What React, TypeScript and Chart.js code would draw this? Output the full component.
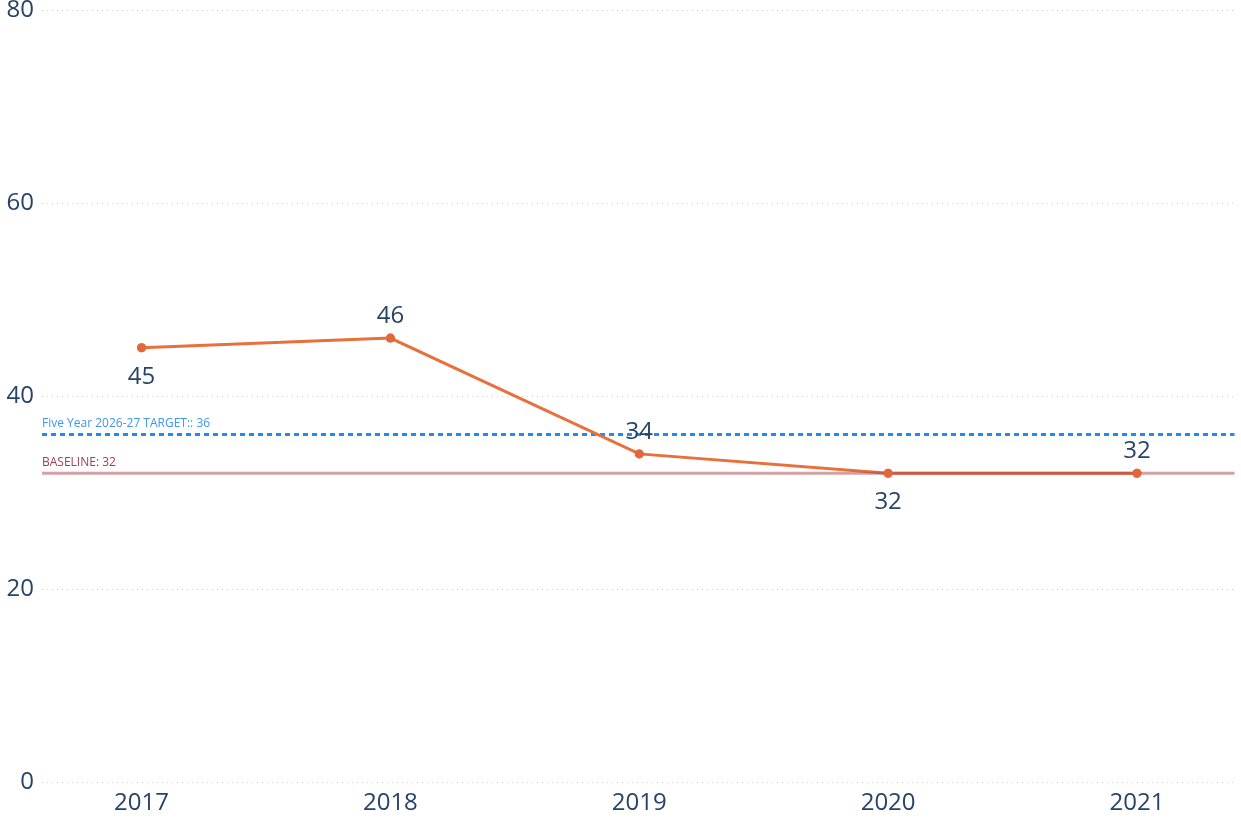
import React, { useEffect, useRef } from "react";
import { Chart, registerables } from "chart.js";

Chart.register(...registerables);

const years = [2017, 2018, 2019, 2020, 2021];
const values = [45, 46, 34, 32, 32];
const yTicks = [0, 20, 40, 60, 80];
const targetValue = 36;
const targetLabel = "Five Year 2026-27 TARGET:: 36";
const baselineValue = 32;
const baselineLabel = "BASELINE: 32";

const FONT = "'Open Sans', 'Noto Sans', sans-serif";
const TEXT_COLOR = "#274468";
const labelSide = ["below", "above", "above", "below", "above"];

const refLinesPlugin = {
  id: "refLines",
  beforeDatasetsDraw(chart: any) {
    const { ctx, chartArea, scales } = chart;
    const y = scales.y;
    const left = chartArea.left;
    const right = chartArea.right - 2;
    ctx.save();
    const yb = y.getPixelForValue(baselineValue);
    ctx.font = `12px ${FONT}`;
    ctx.fillStyle = "#9c3f4e";
    ctx.textAlign = "left";
    ctx.textBaseline = "bottom";
    ctx.fillText(baselineLabel, left, yb - 5);
    const yt = y.getPixelForValue(targetValue);
    ctx.strokeStyle = "#1e8cf5";
    ctx.lineWidth = 3;
    ctx.setLineDash([5, 4]);
    ctx.beginPath();
    ctx.moveTo(left, yt);
    ctx.lineTo(right, yt);
    ctx.stroke();
    ctx.setLineDash([]);
    ctx.fillStyle = "#3f95f0";
    ctx.fillText(targetLabel, left, yt - 5);
    ctx.restore();
  },
  afterDatasetsDraw(chart: any) {
    const { ctx, chartArea, scales } = chart;
    const y = scales.y;
    const yb = y.getPixelForValue(baselineValue);
    ctx.save();
    ctx.strokeStyle = "rgba(171,67,75,0.5)";
    ctx.lineWidth = 3;
    ctx.beginPath();
    ctx.moveTo(chartArea.left, yb);
    ctx.lineTo(chartArea.right - 2, yb);
    ctx.stroke();
    ctx.restore();
    const meta = chart.getDatasetMeta(0);
    meta.data.forEach((p: any) => p.draw(ctx, chartArea));
  },
};

const dataLabelPlugin = {
  id: "dataLabels",
  afterDatasetsDraw(chart: any) {
    const { ctx } = chart;
    const meta = chart.getDatasetMeta(0);
    ctx.save();
    ctx.font = `24px ${FONT}`;
    ctx.fillStyle = TEXT_COLOR;
    ctx.textAlign = "center";
    ctx.textBaseline = "middle";
    meta.data.forEach((pt: any, i: number) => {
      const v = values[i];
      const off = labelSide[i] === "above" ? -22 : 29;
      ctx.fillText(String(v), pt.x, pt.y + off);
    });
    ctx.restore();
  },
};

export default function App() {
  const ref = useRef<HTMLCanvasElement | null>(null);

  useEffect(() => {
    document.body.style.margin = "0";
    const canvas = ref.current;
    if (!canvas) return;
    const chart = new Chart(canvas, {
      type: "line",
      data: {
        datasets: [
          {
            data: years.map((yr, i) => ({ x: yr, y: values[i] })),
            borderColor: "#e8703a",
            backgroundColor: "#e8703a",
            borderWidth: 3,
            pointRadius: 4.5,
            pointHoverRadius: 4.5,
            pointBackgroundColor: "#e2683a",
            pointBorderWidth: 0,
            tension: 0,
          },
        ],
      },
      options: {
        animation: false,
        responsive: true,
        maintainAspectRatio: false,
        layout: { padding: 0 },
        plugins: {
          legend: { display: false },
          tooltip: { enabled: false },
        },
        scales: {
          x: {
            type: "linear",
            min: 2016.6,
            max: 2021.4,
            afterBuildTicks(scale: any) {
              scale.ticks = years.map((v) => ({ value: v }));
            },
            border: { display: false },
            grid: { display: false, drawTicks: false },
            ticks: {
              padding: 7,
              color: TEXT_COLOR,
              font: { family: FONT, size: 24 },
              callback: (v: any) => String(v),
            },
            afterFit(scale: any) {
              scale.height = 36;
              scale.paddingLeft = 0;
              scale.paddingRight = 0;
            },
          },
          y: {
            min: 0,
            max: 80,
            afterBuildTicks(scale: any) {
              scale.ticks = yTicks.map((v) => ({ value: v }));
            },
            border: { display: false, dash: [1, 4] },
            grid: {
              color: "#cfcfcf",
              lineWidth: 1,
              drawTicks: false,
            },
            ticks: {
              padding: 8,
              color: TEXT_COLOR,
              font: { family: FONT, size: 24 },
            },
            afterFit(scale: any) {
              scale.width = 42;
              scale.paddingTop = 10;
              scale.paddingBottom = 0;
            },
          },
        },
      },
      plugins: [refLinesPlugin, dataLabelPlugin],
    } as any);
    return () => chart.destroy();
  }, []);

  return (
    <div style={{ position: "fixed", left: 0, top: 0, width: 1241, height: 818 }}>
      <canvas ref={ref} />
    </div>
  );
}
